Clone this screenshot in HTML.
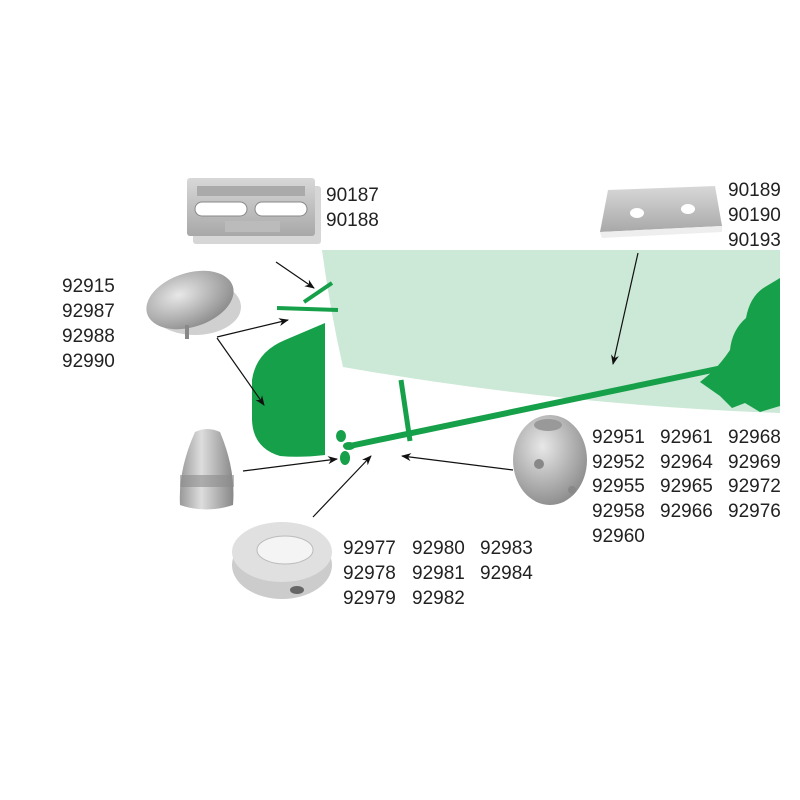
<!DOCTYPE html>
<html><head><meta charset="utf-8"><style>
html,body{margin:0;padding:0;background:#fff;}
svg{display:block}
text{font-family:"Liberation Sans",sans-serif;font-size:19px;fill:#222;}
</style></head><body>
<svg width="800" height="800" viewBox="0 0 800 800">
<defs>
<linearGradient id="g1" x1="0" y1="0" x2="0" y2="1"><stop offset="0" stop-color="#d8d8d8"/><stop offset="1" stop-color="#a8a8a8"/></linearGradient>
<radialGradient id="g2" cx="0.4" cy="0.35" r="0.7"><stop offset="0" stop-color="#e8e8e8"/><stop offset="1" stop-color="#8a8a8a"/></radialGradient>
<linearGradient id="g3" x1="0" y1="0" x2="1" y2="0"><stop offset="0" stop-color="#999"/><stop offset="0.4" stop-color="#ddd"/><stop offset="1" stop-color="#888"/></linearGradient>
<marker id="ah" markerWidth="10" markerHeight="8" refX="9" refY="4" orient="auto" markerUnits="userSpaceOnUse"><path d="M0,0 L10,4 L0,8 L3,4 z" fill="#111"/></marker>
</defs>
<path d="M322,250 L780,250 L780,413 Q560,405 343,367 Q330,310 322,250 z" fill="#cce8d6"/>
<path d="M700,382 L712,372 Q722,362 730,350 Q732,330 746,318 Q750,296 765,287 L780,278 L780,406 L760,412 L745,403 L732,408 L720,396 z" fill="#16a04a"/>
<line x1="345" y1="447" x2="722" y2="368" stroke="#16a04a" stroke-width="6"/>
<line x1="401" y1="380" x2="410" y2="441" stroke="#16a04a" stroke-width="5"/>
<ellipse cx="341" cy="436" rx="5" ry="6" fill="#16a04a"/>
<ellipse cx="349" cy="446" rx="6" ry="4" fill="#16a04a"/>
<ellipse cx="345" cy="458" rx="5" ry="7" fill="#16a04a"/>
<path d="M325,323 L325,455 Q300,458 280,456 Q253,448 252,420 L252,380 Q256,352 285,340 z" fill="#16a04a"/>
<line x1="277" y1="308" x2="338" y2="310" stroke="#16a04a" stroke-width="4"/>
<line x1="304" y1="302" x2="332" y2="283" stroke="#16a04a" stroke-width="4"/>
<g stroke="#111" stroke-width="1.2" fill="none" marker-end="url(#ah)">
<line x1="276" y1="262" x2="314" y2="288"/>
<line x1="217" y1="337" x2="288" y2="320"/>
<line x1="217" y1="338" x2="264" y2="405"/>
<line x1="243" y1="471" x2="337" y2="459"/>
<line x1="313" y1="517" x2="371" y2="456"/>
<line x1="513" y1="470" x2="402" y2="456"/>
<line x1="638" y1="253" x2="613" y2="364"/>
</g>
<rect x="190" y="182" width="128" height="58" rx="3" fill="#777" opacity="0.3" transform="translate(3,4)"/>
<rect x="187" y="178" width="128" height="58" rx="3" fill="url(#g1)"/>
<rect x="197" y="186" width="108" height="10" fill="#aaa"/>
<rect x="195" y="202" width="52" height="14" rx="7" fill="#fff" stroke="#888"/>
<rect x="255" y="202" width="52" height="14" rx="7" fill="#fff" stroke="#888"/>
<rect x="225" y="221" width="55" height="11" fill="#bbb"/>
<path d="M608,190 L715,186 L722,226 L600,232 z" fill="url(#g1)"/>
<path d="M600,232 L722,226 L722,232 L602,238 z" fill="#eee"/>
<ellipse cx="637" cy="213" rx="7" ry="5" fill="#fff"/>
<ellipse cx="688" cy="209" rx="7" ry="5" fill="#fff"/>
<ellipse cx="195" cy="307" rx="46" ry="28" fill="#777" opacity="0.35"/>
<ellipse cx="190" cy="300" rx="45" ry="27" fill="url(#g2)" transform="rotate(-18 190 300)"/>
<rect x="185" y="325" width="4" height="14" fill="#888"/>
<path d="M195,432 Q207,426 220,432 Q236,470 233,505 Q206,514 180,505 Q178,470 195,432 z" fill="url(#g3)"/>
<rect x="180" y="475" width="54" height="12" fill="#8c8c8c" opacity="0.6"/>
<ellipse cx="282" cy="565" rx="50" ry="34" fill="#ccc"/>
<ellipse cx="282" cy="552" rx="50" ry="30" fill="#e0e0e0"/>
<ellipse cx="285" cy="550" rx="28" ry="14" fill="#f4f4f4" stroke="#bbb"/>
<ellipse cx="297" cy="590" rx="7" ry="4" fill="#666"/>
<ellipse cx="550" cy="460" rx="37" ry="45" fill="url(#g2)"/>
<ellipse cx="548" cy="425" rx="14" ry="6" fill="#999"/>
<circle cx="539" cy="464" r="5" fill="#888"/>
<circle cx="572" cy="490" r="4" fill="#888"/>
<text x="326" y="201">90187</text><text x="326" y="226">90188</text>
<text x="728" y="196">90189</text><text x="728" y="221">90190</text><text x="728" y="246">90193</text>
<text x="62" y="292">92915</text><text x="62" y="317">92987</text><text x="62" y="342">92988</text><text x="62" y="367">92990</text>
<text x="592" y="443">92951</text><text x="660" y="443">92961</text><text x="728" y="443">92968</text>
<text x="592" y="468">92952</text><text x="660" y="468">92964</text><text x="728" y="468">92969</text>
<text x="592" y="492">92955</text><text x="660" y="492">92965</text><text x="728" y="492">92972</text>
<text x="592" y="517">92958</text><text x="660" y="517">92966</text><text x="728" y="517">92976</text>
<text x="592" y="542">92960</text>
<text x="343" y="554">92977</text><text x="412" y="554">92980</text><text x="480" y="554">92983</text>
<text x="343" y="579">92978</text><text x="412" y="579">92981</text><text x="480" y="579">92984</text>
<text x="343" y="604">92979</text><text x="412" y="604">92982</text>
</svg>
</body></html>
